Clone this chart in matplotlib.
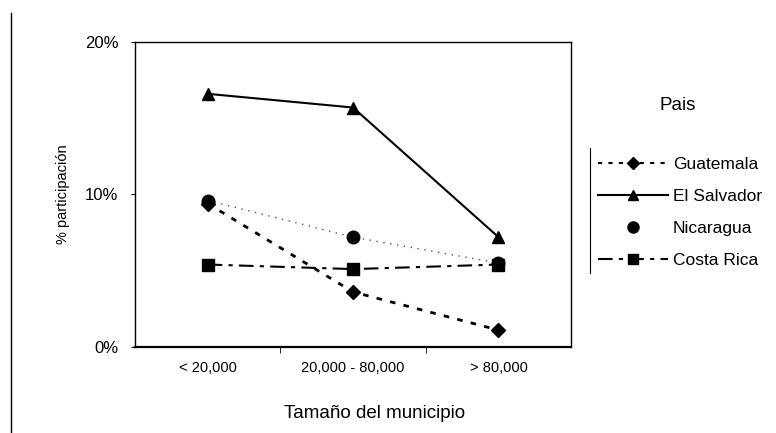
import matplotlib
matplotlib.use("Agg")
import matplotlib.pyplot as plt
from matplotlib.lines import Line2D

plt.rcParams['font.family'] = ['Liberation Sans', 'DejaVu Sans']

# data (% participacion by municipality size)
categories = ["< 20,000", "20,000 - 80,000", "> 80,000"]
guatemala = [9.4, 3.6, 1.1]
el_salvador = [16.6, 15.7, 7.2]
nicaragua = [9.6, 7.2, 5.5]
costa_rica = [5.4, 5.1, 5.4]
y_ticks = [0, 10, 20]
y_tick_labels = ["0%", "10%", "20%"]

fig = plt.figure(figsize=(7.76, 4.33), dpi=100)
ax = fig.add_axes([0.174, 0.199, 0.562, 0.704])

x = list(range(len(categories)))

g, = ax.plot(x, guatemala, color="black", linestyle=(0, (2, 3)), linewidth=2,
             marker="D", markersize=7, label="Guatemala")
e, = ax.plot(x, el_salvador, color="black", linestyle="-", linewidth=1.5,
             marker="^", markersize=9, label="El Salvador")
c, = ax.plot(x, costa_rica, color="black", linestyle=(0, (7, 3, 2, 3)), linewidth=1.5,
             marker="s", markersize=8, label="Costa Rica")
ax.plot(x, nicaragua, color="#555555", linestyle=(0, (1, 4)), linewidth=1,
        marker="o", markersize=9, markerfacecolor="black", markeredgecolor="black")

ax.set_xlim(-0.5, 2.5)
ax.set_ylim(0, 20)
ax.set_xticks(x)
ax.set_xticklabels(categories, fontsize=10.5)
ax.set_xticks([0.5, 1.5], minor=True)
ax.tick_params(axis="x", which="major", length=0, pad=10)
ax.tick_params(axis="x", which="minor", length=4, direction="out")
ax.set_yticks(y_ticks)
ax.set_yticklabels(y_tick_labels, fontsize=12)
ax.tick_params(axis="y", length=3, pad=9)

for s in ax.spines.values():
    s.set_linewidth(1)
ax.spines["bottom"].set_linewidth(1.6)

ax.set_ylabel("% participación", fontsize=10.5)
ax.yaxis.set_label_coords(-0.15, 0.5)
ax.set_xlabel("Tamaño del municipio", fontsize=13.5)
ax.xaxis.set_label_coords(0.55, -0.19)

# legend to the right (Nicaragua shows only its marker)
n_handle = Line2D([], [], color="black", linestyle="none", marker="o", markersize=8)
g_handle = Line2D([], [], color="black", linestyle=(0, (2, 3)), linewidth=1.5,
                  marker="D", markersize=6)
e_handle = Line2D([], [], color="black", linestyle="-", linewidth=1.5,
                  marker="^", markersize=7)
c_handle = Line2D([], [], color="black", linestyle=(0, (7, 3, 2, 3)), linewidth=1.5,
                  marker="s", markersize=7)
leg = fig.legend([g_handle, e_handle, n_handle, c_handle],
                 ["Guatemala", "El Salvador", "Nicaragua", "Costa Rica"],
                 loc="upper left", bbox_to_anchor=(0.762, 0.654),
                 frameon=False, fontsize=12.5, handlelength=4.0,
                 handletextpad=0.3, labelspacing=0.97, borderaxespad=0)
fig.text(0.873, 0.757, "Pais", fontsize=13.5, ha="center", va="center")
fig.add_artist(Line2D([0.760, 0.760], [0.37, 0.658], color="black", linewidth=0.8))

# outer frame left edge from the scanned page
fig.add_artist(Line2D([0.014, 0.014], [0.0, 0.97], color="black", linewidth=1))

fig.savefig("out.png", dpi=100)
